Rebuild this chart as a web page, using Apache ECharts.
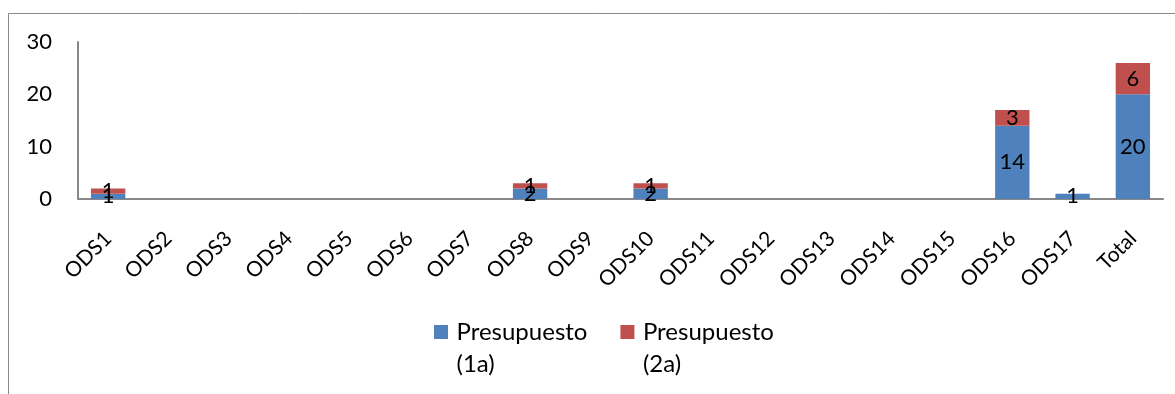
<!DOCTYPE html>
<html><head><meta charset="utf-8">
<script src="https://cdn.jsdelivr.net/npm/echarts@6/dist/echarts.min.js"></script>
<style>html,body{margin:0;padding:0;background:#fff}#c{width:1175px;height:394px}</style>
</head><body><div id="c"></div>
<script>
const categories = ['ODS1','ODS2','ODS3','ODS4','ODS5','ODS6','ODS7','ODS8','ODS9','ODS10','ODS11','ODS12','ODS13','ODS14','ODS15','ODS16','ODS17','Total'];
const serie1Name = 'Presupuesto (1a)';
const serie2Name = 'Presupuesto (2a)';
const serie1 = [1,0,0,0,0,0,0,2,0,2,0,0,0,0,0,14,1,20];
const serie2 = [1,0,0,0,0,0,0,1,0,1,0,0,0,0,0,3,0,6];
const yTicks = [0,10,20,30];

const FONT = 'Lato, "Open Sans", sans-serif';
const chart = echarts.init(document.getElementById('c'));
const lbl = {show:true, position:'inside', color:'#000', fontSize:22, fontFamily:FONT,
  formatter:p => p.value === 0 ? '' : String(p.value)};
// square icon in the top part of a taller box so it lines up with the first text line
const legendIcon = 'path://M0,0L14,0L14,14L0,14Z M0,46L0.01,46';
chart.setOption({
  animation:false,
  graphic:[{type:'rect', shape:{x:8.5,y:13.5,width:1200,height:400}, style:{fill:'none',stroke:'#888',lineWidth:1}}],
  grid:{left:78, right:12, top:42, bottom:195},
  legend:{top:316, left:434, padding:0, itemWidth:15, itemHeight:46, itemGap:33, icon:legendIcon,
    textStyle:{fontSize:24, fontFamily:FONT, color:'#000', lineHeight:32, padding:[0,0,0,3]},
    formatter:n => n.replace(' ', '\n'),
    data:[serie1Name, serie2Name]},
  xAxis:{type:'category', data:categories,
    axisLine:{lineStyle:{color:'#888', width:2}}, axisTick:{show:false},
    axisLabel:{rotate:45, fontSize:21, fontFamily:FONT, color:'#000', interval:0, margin:36}},
  yAxis:{type:'value', min:0, max:30, interval:10,
    axisLine:{show:true, lineStyle:{color:'#888', width:2}}, axisTick:{show:false},
    splitLine:{show:false},
    axisLabel:{fontSize:22, fontFamily:FONT, color:'#000', margin:26}},
  series:[
    {name:serie1Name, type:'bar', stack:'a', data:serie1, barWidth:'57%', itemStyle:{color:'#4F81BD'}, label:lbl},
    {name:serie2Name, type:'bar', stack:'a', data:serie2, barWidth:'57%', itemStyle:{color:'#C0504D'}, label:lbl}
  ]
});
</script></body></html>
